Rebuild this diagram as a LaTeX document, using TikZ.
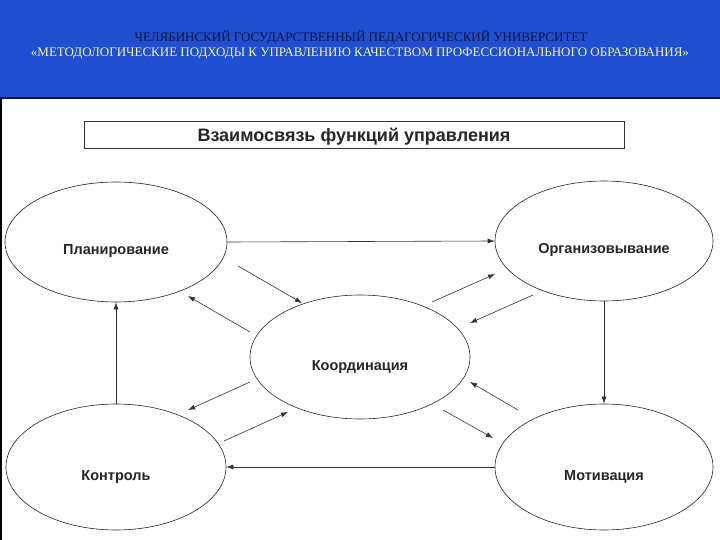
\documentclass[tikz,border=0pt]{standalone}
\usepackage{fontspec}
\setmainfont{Liberation Serif}
\newfontfamily\lsans{Liberation Sans}
\usetikzlibrary{arrows.meta,shapes.geometric}
\definecolor{bandblue}{RGB}{31,78,208}
\definecolor{bandline}{RGB}{10,20,80}
\definecolor{headdark}{RGB}{15,20,70}
\definecolor{headyellow}{RGB}{245,245,160}
\tikzset{
  fn/.style={draw=black!85, line width=0.6pt, ellipse, inner sep=0pt},
  fntext/.style={font=\lsans\bfseries\fontsize{14.5}{16}\selectfont, text=black!85, inner sep=0pt},
  conn/.style={draw=black!80, line width=0.6pt, -{Latex[length=7pt,width=5pt]}},
  head/.style={font=\fontsize{13}{15}\selectfont, inner sep=0pt},
}
\begin{document}
\begin{tikzpicture}[x=1pt,y=-1pt]
\useasboundingbox (0,0) rectangle (720,540);
\fill[white] (0,0) rectangle (720,540);
% header band
\fill[bandblue] (0,0) rectangle (720,97);
\fill[bandline] (0,97) rectangle (720,99);
\fill[black] (0,99) rectangle (2,540);
\node[head, text=headdark] (h1) at (361,37) {ЧЕЛЯБИНСКИЙ ГОСУДАРСТВЕННЫЙ ПЕДАГОГИЧЕСКИЙ УНИВЕРСИТЕТ};
\node[head, text=headyellow] (h2) at (360,54) {«МЕТОДОЛОГИЧЕСКИЕ ПОДХОДЫ К УПРАВЛЕНИЮ КАЧЕСТВОМ ПРОФЕССИОНАЛЬНОГО ОБРАЗОВАНИЯ»};
% title box
\draw[black!80, line width=0.7pt] (84,121) rectangle (624,148);
\node[font=\lsans\bfseries\fontsize{18}{20}\selectfont, text=black!85] (title) at (354,137) {Взаимосвязь функций управления};
% ellipses
\node[fn, minimum width=222pt, minimum height=120pt] (plan) at (116,242) {};
\node[fn, minimum width=218pt, minimum height=120pt] (org) at (604,241) {};
\node[fn, minimum width=220pt, minimum height=124pt] (coord) at (360,357) {};
\node[fn, minimum width=220pt, minimum height=126pt] (ctrl) at (116,467) {};
\node[fn, minimum width=218pt, minimum height=126pt] (mot) at (604,467) {};
\node[fntext] (tplan) at ([yshift=-9pt]plan.center) {Планирование};
\node[fntext] (torg) at ([yshift=-9pt]org.center) {Организовывание};
\node[fntext] (tcoord) at ([yshift=-10pt]coord.center) {Координация};
\node[fntext] (tctrl) at ([yshift=-10pt]ctrl.center) {Контроль};
\node[fntext] (tmot) at ([yshift=-10pt]mot.center) {Мотивация};
% main connectors
\draw[conn] (plan.east) -- (org.west);
\draw[conn] (org.south) -- (mot.north);
\draw[conn] (ctrl.north) -- (plan.south);
\draw[conn] (mot.west) -- (ctrl.east);
% diagonal connectors (free ends)
\coordinate (a1) at (238,266); \coordinate (a2) at (302,303);
\coordinate (b1) at (250,332); \coordinate (b2) at (188,296);
\coordinate (c1) at (432,302); \coordinate (c2) at (495,274);
\coordinate (d1) at (533,295); \coordinate (d2) at (470,323);
\coordinate (e1) at (250,382); \coordinate (e2) at (188,410);
\coordinate (f1) at (224,441); \coordinate (f2) at (288,412);
\coordinate (g1) at (518,410); \coordinate (g2) at (470,382);
\coordinate (k1) at (443,410); \coordinate (k2) at (493,438);
\draw[conn] (a1) -- (a2);
\draw[conn] (b1) -- (b2);
\draw[conn] (c1) -- (c2);
\draw[conn] (d1) -- (d2);
\draw[conn] (e1) -- (e2);
\draw[conn] (f1) -- (f2);
\draw[conn] (g1) -- (g2);
\draw[conn] (k1) -- (k2);
\end{tikzpicture}
\end{document}
